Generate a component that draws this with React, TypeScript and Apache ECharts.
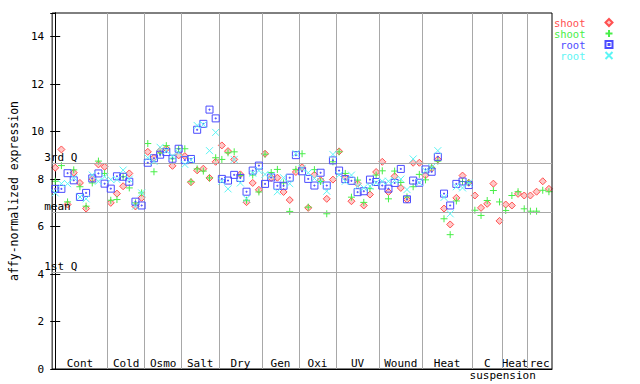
import React, { useEffect, useRef } from "react";
import * as echarts from "echarts";

// ---- data ----
const groupNames = ["Cont", "Cold", "Osmo", "Salt", "Dry", "Gen", "Oxi", "UV", "Wound", "Heat", "C", "Heat", "rec"];
const groupSizes = [9, 6, 6, 6, 7, 6, 6, 7, 7, 8, 5, 4, 4];
const subLabel = "suspension";

const shootRed = [
  8.48, 9.25, 6.93, 8.27, 7.84, 6.76, 8.01, 8.62, 8.52,
  7.0, 7.39, 7.7, 8.24, 6.85, 7.21,
  9.15, 8.9, 9.2, 9.28, 8.56, 9.0,
  8.97, 7.87, 8.37, 8.44, 8.05, 8.73,
  9.42, 9.18, 8.83, 8.2, 7.03, 7.84, 7.55,
  9.07, 8.05, 8.06, 7.46, 7.12, 8.3,
  8.5, 6.79, 8.18, 7.95, 7.17, 7.98,
  9.17, 8.06, 7.07, 7.81, 6.89, 7.35, 8.3,
  8.73, 7.46, 8.12, 7.63, 7.14, 8.69, 8.69,
  8.16, 8.45, 8.83, 6.76, 6.09, 7.21, 8.15, 7.85,
  7.31, 6.79, 6.96, 7.81, 6.24,
  6.93, 6.89, 7.38, 7.31,
  7.31, 7.47, 7.91, 7.59,
];
const shootGreen = [
  7.91, 8.57, 7.04, 8.39, 7.68, 6.86, 7.84, 8.76, 8.24,
  7.11, 7.14, 8.1, 7.63, 7.0, 7.42,
  9.5, 8.31, 9.1, 9.41, 8.86, 9.28,
  9.28, 7.89, 8.43, 8.34, 8.05, 8.9,
  8.83, 9.11, 9.15, 8.15, 7.11, 8.17, 7.46,
  9.05, 8.28, 8.41, 7.84, 6.64, 8.41,
  9.07, 6.82, 8.4, 7.9, 6.54, 8.73,
  9.15, 8.24, 7.24, 7.96, 7.02, 7.6, 8.17,
  8.35, 7.17, 8.34, 7.86, 7.25, 7.68, 8.2,
  7.97, 8.5, 8.76, 6.33, 5.66, 7.08, 7.9, 7.85,
  6.69, 6.47, 7.1, 7.52, 7.04,
  6.68, 7.31, 7.47, 6.75,
  6.65, 6.65, 7.53, 7.47,
];
const rootBlue = [
  7.59, 7.59, 8.25, 7.95, 7.25, 7.42, 8.03, 8.24, 7.81,
  7.6, 8.12, 8.1, 7.89, 7.05, 6.89,
  8.69, 8.88, 9.03, 9.14, 8.86, 9.28,
  8.8, 8.85, 10.08, 10.33, 10.93, 10.56,
  8.01, 7.94, 8.18, 8.05, 7.47, 8.36, 8.57,
  7.8, 8.07, 7.72, 7.72, 8.06, 9.01,
  8.33, 8.01, 7.73, 8.27, 7.73, 8.79,
  8.36, 8.0, 7.93, 7.45, 7.49, 7.98, 7.88,
  7.73, 7.6, 7.84, 8.43, 7.15, 7.94, 7.85,
  8.41, 8.31, 8.94, 7.39, 6.89, 7.8, 7.9, 7.75,
];
const rootCyan = [
  7.42, 7.81, 7.81, 8.06, 7.25, 7.17, 8.17, 7.91, 8.1,
  7.98, 7.98, 8.38, 8.0, 6.86, 7.42,
  8.9, 8.75, 9.34, 9.2, 8.97, 9.11,
  8.62, 8.8, 10.26, 10.3, 9.2, 9.97,
  7.91, 7.59, 8.83, 7.84, 7.17, 8.25, 8.36,
  8.2, 8.15, 7.47, 8.06, 7.81, 9.08,
  8.45, 8.27, 8.03, 7.9, 7.49, 9.04,
  8.17, 7.91, 8.17, 7.7, 7.63, 7.7, 7.85,
  7.91, 7.91, 7.95, 8.0, 7.56, 8.85, 7.86,
  8.35, 8.5, 9.2, 7.23, 6.54, 7.68, 7.63, 7.84,
];
const quartileNames = ["3rd Q", "mean", "1st Q"];
const quartileValues = [8.69, 6.62, 4.09];
const yMax = 15;
const yStep = 2;

const FONT = "DejaVu Sans Mono";
const RED = "#ff5050";
const GREEN = "#48ee48";
const BLUE = "#4b4bff";
const CYAN = "#5cf5f5";

export default function App() {
  const ref = useRef<HTMLDivElement>(null);
  useEffect(() => {
    document.body.style.margin = "0";
    const chart = echarts.init(ref.current!, null, { renderer: "svg" });

    const total = groupSizes.reduce((a, b) => a + b, 0);
    const starts: number[] = [];
    let acc = 0;
    groupSizes.forEach((n) => { starts.push(acc); acc += n; });
    const centers = groupSizes.map((n, i) => starts[i] + (n - 1) / 2);
    const bounds = groupSizes.slice(0, -1).map((n, i) => starts[i] + n - 0.5);
    const subPos = bounds[groupNames.length - 3];

    const toData = (arr: number[]) => arr.map((v, i) => [i, v]);

    const mkSeries = (name: string, arr: number[], symbol: string, color: string, fill: string, z: number) => ({
      name,
      type: "scatter",
      data: toData(arr),
      symbol,
      symbolSize: 7,
      symbolKeepAspect: true,
      z,
      itemStyle: { color: fill, borderColor: color, borderWidth: 1, opacity: 1 },
      emphasis: { disabled: true },
    });

    chart.setOption({
      animation: false,
      backgroundColor: "#ffffff",
      grid: { left: 44, right: 88, top: 13, bottom: 15, show: true, borderColor: "#000", borderWidth: 1, backgroundColor: "transparent", z: 5 },
      legend: {
        orient: "vertical",
        right: 21.5,
        top: 12,
        align: "right",
        itemWidth: 7,
        itemHeight: 7,
        itemGap: 0,
        selectedMode: false,
        textStyle: { fontFamily: FONT, fontSize: 10.5, lineHeight: 11, padding: [0, 15, 0, 0] },
        formatter: (n: string) => n.trim().padStart(5, "\u00a0"),
        data: [
          { name: "shoot", textStyle: { color: RED } },
          { name: "shoot ", textStyle: { color: GREEN } },
          { name: "root", textStyle: { color: BLUE } },
          { name: "root ", textStyle: { color: CYAN } },
        ],
      },
      xAxis: [
        {
          type: "value",
          min: -0.5,
          max: total - 0.5,
          axisLine: { show: true, lineStyle: { color: "#000" } },
          axisTick: { show: false },
          splitLine: { show: false },
          axisLabel: {
            inside: true,
            margin: 0,
            customValues: centers,
            formatter: (v: number) => {
              const i = centers.findIndex((c) => Math.abs(c - v) < 1e-6);
              return i >= 0 ? groupNames[i] : "";
            },
            fontFamily: FONT,
            fontSize: 11,
            lineHeight: 11,
            color: "#000",
            verticalAlign: "bottom",
          },
        },
        {
          type: "value",
          position: "bottom",
          min: -0.5,
          max: total - 0.5,
          axisLine: { show: false },
          axisTick: { show: false },
          splitLine: { show: false },
          axisLabel: {
            margin: 1,
            customValues: [subPos],
            formatter: () => subLabel,
            fontFamily: FONT,
            fontSize: 11,
            lineHeight: 11,
            color: "#000",
          },
        },
      ],
      yAxis: [
        {
          type: "value",
          min: 0,
          max: yMax,
          interval: yStep,
          name: "affy-normalized expression",
          nameLocation: "middle",
          nameRotate: 90,
          nameGap: 26,
          nameTextStyle: { fontFamily: FONT, fontSize: 11.5, color: "#000" },
          axisLine: { show: true, lineStyle: { color: "#000" } },
          axisTick: { show: true, inside: true, length: 5, lineStyle: { color: "#000" } },
          axisLabel: { showMaxLabel: false, margin: 8, fontFamily: FONT, fontSize: 11, color: "#000" },
          splitLine: { show: false },
        },
        {
          type: "value",
          position: "right",
          min: 0,
          max: yMax,
          interval: yStep,
          axisLine: { show: true, lineStyle: { color: "#000" } },
          axisTick: { show: true, inside: true, length: 5, lineStyle: { color: "#000" } },
          axisLabel: { show: false },
          splitLine: { show: false },
        },
      ],
      series: [
        {
          type: "scatter",
          data: [],
          z: 1,
          silent: true,
          markLine: {
            silent: true,
            symbol: ["none", "none"],
            animation: false,
            lineStyle: { color: "#a8a8a8", width: 1, type: "solid" },
            data: [
              ...bounds.map((b) => ({ xAxis: b, label: { show: false } })),
              ...quartileValues.map((q, i) => ({
                yAxis: q,
                name: quartileNames[i],
                label: {
                  show: true,
                  position: "insideStartTop",
                  formatter: quartileNames[i],
                  distance: [-8, 0],
                  fontFamily: FONT,
                  fontSize: 11,
                  lineHeight: 11,
                  color: "#000",
                },
              })),
            ],
          },
        },
        mkSeries("shoot", shootRed, "diamond", RED, "#ffc8c8", 3),
        mkSeries("shoot ", shootGreen, "path://M3.5,0V7M0,3.5H7", GREEN, "rgba(0,0,0,0)", 4),
        mkSeries("root", rootBlue, "path://M0,0H7V7H0ZM3,3H4V4H3Z", BLUE, "rgba(0,0,0,0)", 5),
        mkSeries("root ", rootCyan, "path://M0,0L7,7M7,0L0,7", CYAN, "rgba(0,0,0,0)", 6),
      ],
    });
    return () => chart.dispose();
  }, []);
  return <div ref={ref} style={{ position: "fixed", left: 0, top: 0, width: 640, height: 384 }} />;
}
